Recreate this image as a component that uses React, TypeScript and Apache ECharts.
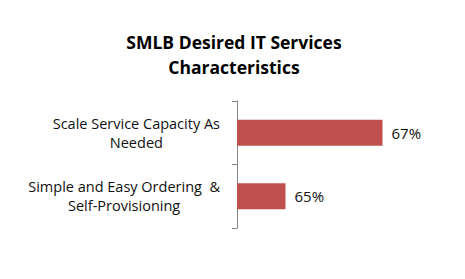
import React, { useEffect, useRef } from "react";
import * as echarts from "echarts";

const titleText = "SMLB Desired IT Services\nCharacteristics";
const categories = [
  "Scale Service Capacity As\nNeeded",
  "Simple and Easy Ordering  &\nSelf-Provisioning",
];
const values = [67, 65];
const axisMin = 64;
const axisMax = 68;

export default function App() {
  const ref = useRef<HTMLDivElement>(null);
  useEffect(() => {
    if (!ref.current) return;
    const chart = echarts.init(ref.current, null, { renderer: "svg" });
    chart.setOption({
      animation: false,
      backgroundColor: "#ffffff",
      title: {
        text: titleText,
        left: 229,
        textAlign: "center",
        top: 24,
        textStyle: {
          fontFamily: "Open Sans",
          fontWeight: "bold",
          fontSize: 17.5,
          lineHeight: 25,
          color: "#000000",
        },
      },
      grid: { left: 237, top: 101, width: 194, height: 127 },
      xAxis: {
        type: "value",
        min: axisMin,
        max: axisMax,
        show: false,
      },
      yAxis: {
        type: "category",
        data: categories,
        inverse: true,
        axisLine: { show: true, lineStyle: { color: "#868686", width: 1 } },
        axisTick: { show: true, length: 5, lineStyle: { color: "#868686" } },
        axisLabel: {
          margin: 17,
          align: "right",
          formatter: (v: string) =>
            v
              .split("\n")
              .map((s) => `{c|${s}}`)
              .join("\n"),
          rich: {
            c: {
              align: "center",
              fontFamily: "Open Sans",
              fontSize: 14.5,
              lineHeight: 19,
              color: "#111111",
            },
          },
        },
      },
      series: [
        {
          type: "bar",
          data: values,
          barWidth: 26,
          itemStyle: { color: "#C0504D" },
          label: {
            show: true,
            position: "right",
            distance: 9,
            formatter: "{c}%",
            fontFamily: "Open Sans",
            fontSize: 15,
            color: "#111111",
          },
        },
      ],
    });
    return () => chart.dispose();
  }, []);
  return <div ref={ref} style={{ width: 465, height: 279, position: "absolute", left: 0, top: 0 }} />;
}
